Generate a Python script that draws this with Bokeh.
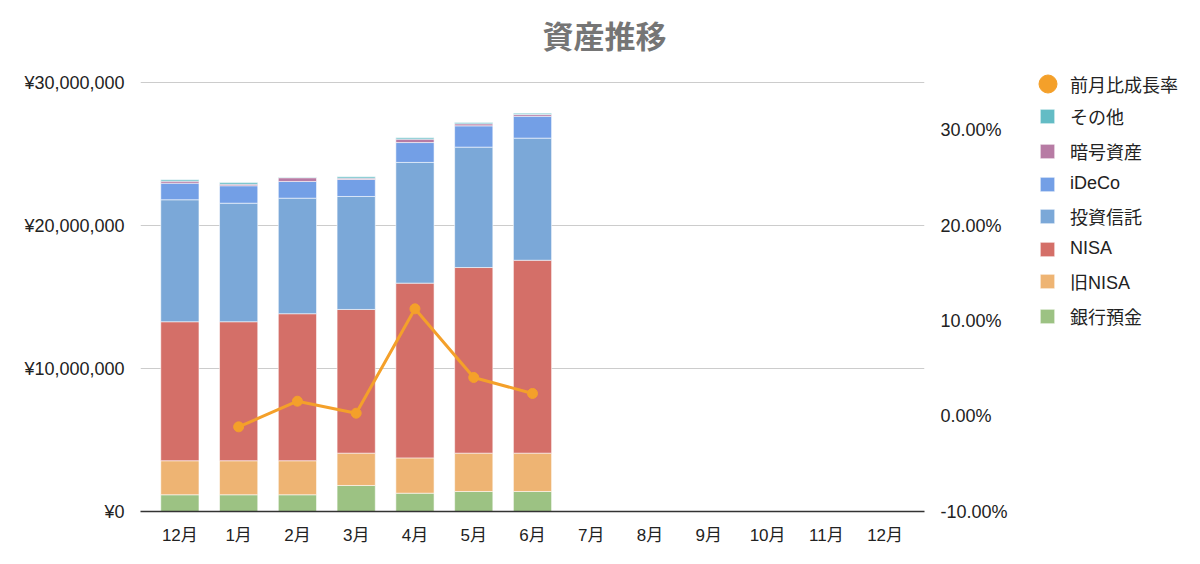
from bokeh.plotting import figure
from bokeh.layouts import row
from bokeh.models import (ColumnDataSource, Range1d, LinearAxis, FixedTicker,
                          Legend, LegendItem)
from bokeh.embed import file_html
from bokeh.resources import INLINE

# ---- data ----
months = ["12月", "1月", "2月", "3月", "4月", "5月", "6月",
          "7月", "8月", "9月", "10月", "11月", "12月"]
bank    = [1170000, 1170000, 1170000, 1820000, 1280000, 1400000, 1400000]   # 銀行預金
old_nisa = [2380000, 2380000, 2380000, 2260000, 2470000, 2680000, 2680000]  # 旧NISA
nisa    = [9720000, 9720000, 10280000, 10050000, 12220000, 12980000, 13490000]  # NISA
trust   = [8530000, 8290000, 8080000, 7900000, 8440000, 8420000, 8540000]   # 投資信託
ideco   = [1160000, 1220000, 1170000, 1190000, 1390000, 1490000, 1530000]   # iDeCo
crypto  = [140000, 110000, 260000, 90000, 240000, 140000, 120000]           # 暗号資産
other   = [100000, 120000, 30000, 100000, 90000, 90000, 90000]              # その他
growth_months = ["1月", "2月", "3月", "4月", "5月", "6月"]
growth  = [-1.12, 1.57, 0.31, 11.26, 4.06, 2.38]                           # 前月比成長率 (%)

series_names = ["銀行預金", "旧NISA", "NISA", "投資信託", "iDeCo", "暗号資産", "その他"]
colors = ["#9cc283", "#eeb473", "#d46f68", "#7ba8d8", "#739fe6", "#b77ba4", "#63bcc5"]
line_color = "#f4a02a"
growth_name = "前月比成長率"

left_ticks = [0, 10000000, 20000000, 30000000]
left_labels = ["¥0", "¥10,000,000", "¥20,000,000", "¥30,000,000"]
right_ticks = [-10, 0, 10, 20, 30]
right_labels = ["-10.00%", "0.00%", "10.00%", "20.00%", "30.00%"]

FONT = "'Liberation Sans', 'Noto Sans CJK JP'"

# ---- sources ----
xs = list(range(len(bank)))
keys = ["s%d" % i for i in range(len(series_names))]
src = ColumnDataSource(dict(x=xs, s0=bank, s1=old_nisa, s2=nisa, s3=trust,
                            s4=ideco, s5=crypto, s6=other))
gx = [months.index(m, 1) for m in growth_months]
gsrc = ColumnDataSource(dict(x=gx, y=growth))

# plot area is a little taller than the 30M gridline (headroom for the legend)
headroom = 455 / 429
y_top = 30000000 * headroom
pct_top = -10 + 45 * headroom

# ---- main chart ----
p = figure(width=1010, height=556, output_backend="svg", toolbar_location=None,
           x_range=Range1d(-0.67, 12.67), y_range=Range1d(0, y_top),
           min_border_left=140, min_border_right=82, min_border_top=56,
           min_border_bottom=45, outline_line_color=None)
p.extra_y_ranges = {"pct": Range1d(-10, pct_top)}

p.title.text = "資産推移"
p.title.align = "left"
p.title.offset = 402
p.title.standoff = 3
p.title.text_font = FONT
p.title.text_font_size = "31px"
p.title.text_font_style = "bold"
p.title.text_color = "#757575"

bars = p.vbar_stack(keys, x="x", width=0.65, color=colors, source=src,
                    line_color="white", line_width=0.8, line_alpha=0.7)

p.line("x", "y", source=gsrc, y_range_name="pct", line_color=line_color, line_width=3)
p.scatter("x", "y", source=gsrc, y_range_name="pct", size=10,
          fill_color=line_color, line_color=line_color)

p.xaxis.ticker = FixedTicker(ticks=list(range(len(months))))
p.xaxis.major_label_overrides = {i: m for i, m in enumerate(months)}
p.xaxis.axis_line_color = "#333333"
p.xaxis.axis_line_width = 1.5
p.xaxis.major_tick_line_color = None
p.xaxis.minor_tick_line_color = None
p.xaxis.major_label_standoff = 8
p.xaxis.major_label_text_font = FONT
p.xaxis.major_label_text_font_size = "17px"
p.xaxis.major_label_text_color = "#222222"

p.yaxis.ticker = FixedTicker(ticks=left_ticks)
p.yaxis.major_label_overrides = {t: l for t, l in zip(left_ticks, left_labels)}
p.yaxis.axis_line_color = None
p.yaxis.major_tick_line_color = None
p.yaxis.minor_tick_line_color = None
p.yaxis.major_label_standoff = 10
p.yaxis.major_label_text_font = FONT
p.yaxis.major_label_text_font_size = "18px"
p.yaxis.major_label_text_color = "#222222"

raxis = LinearAxis(y_range_name="pct", ticker=FixedTicker(ticks=right_ticks),
                   major_label_overrides={t: l for t, l in zip(right_ticks, right_labels)},
                   axis_line_color=None, major_tick_line_color=None,
                   minor_tick_line_color=None, major_label_standoff=10,
                   major_label_text_font=FONT, major_label_text_font_size="18px",
                   major_label_text_color="#222222")
p.add_layout(raxis, "right")

p.xgrid.grid_line_color = None
p.ygrid.ticker = FixedTicker(ticks=left_ticks)
p.ygrid.grid_line_color = "#cccccc"
p.ygrid.grid_line_width = 1

# ---- legend panel (same data, drawn outside its visible range) ----
lg = figure(width=182, height=556, output_backend="svg", toolbar_location=None,
            x_range=Range1d(-20, -19), y_range=Range1d(0, 1), title_location=None,
            x_axis_location=None, y_axis_location=None, outline_line_color=None,
            min_border_left=0, min_border_right=0, min_border_top=0, min_border_bottom=0)
lg.xgrid.grid_line_color = None
lg.ygrid.grid_line_color = None

g_proxy = lg.scatter("x", "y", source=gsrc, size=10, fill_color=line_color, line_color=line_color)
bar_proxies = lg.vbar_stack(keys, x="x", width=0.65, color=colors, source=src,
                            line_color="white", line_width=0.8, line_alpha=0.7)

leg_a = Legend(items=[LegendItem(label=growth_name, renderers=[g_proxy])],
               location=(15, 405), glyph_width=45, glyph_height=45,
               label_standoff=0, padding=0, margin=0, spacing=0,
               border_line_color=None, background_fill_alpha=0,
               label_text_font=FONT, label_text_font_size="18px",
               label_text_color="#222222")
leg_b = Legend(items=[LegendItem(label=n, renderers=[r])
                      for n, r in zip(series_names, bar_proxies)][::-1],
               location=(28, 182), glyph_width=18, glyph_height=18,
               label_height=18, label_standoff=14, padding=0, margin=0, spacing=9,
               border_line_color=None, background_fill_alpha=0,
               label_text_font=FONT, label_text_font_size="18px",
               label_text_color="#222222")
lg.add_layout(leg_a)
lg.add_layout(leg_b)

layout = row(p, lg, spacing=0)
open("out.html", "w").write(file_html(layout, INLINE))
